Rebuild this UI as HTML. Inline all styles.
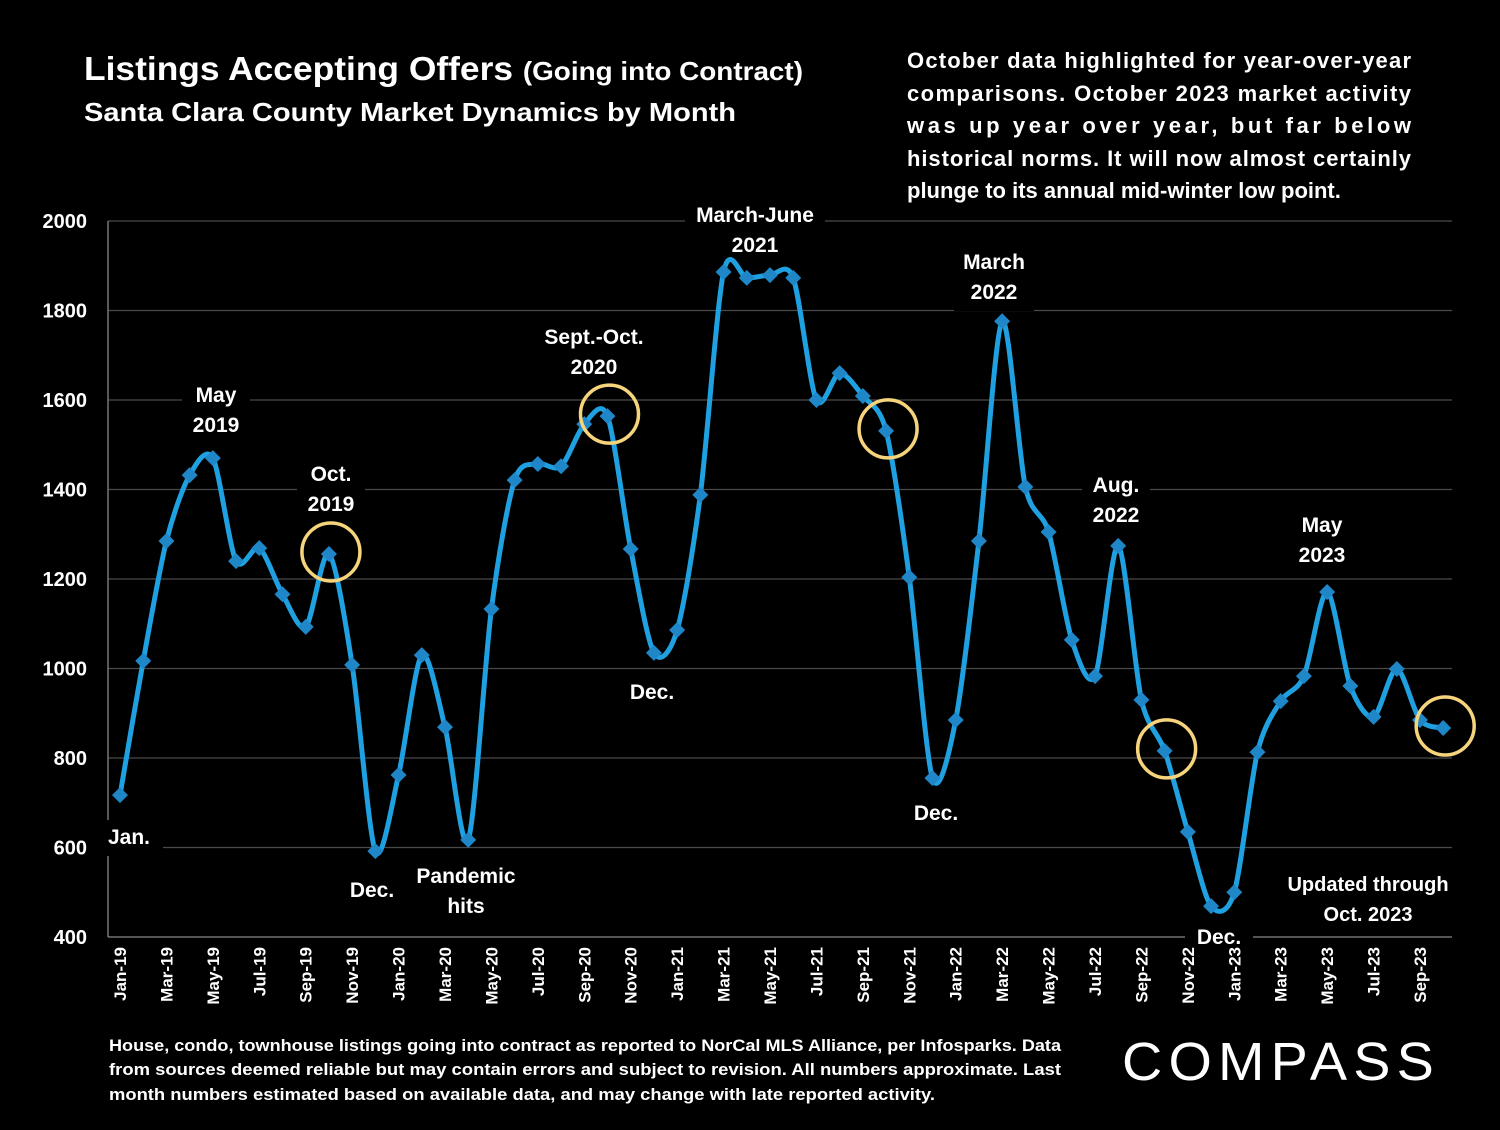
<!DOCTYPE html>
<html><head><meta charset="utf-8">
<style>
body{margin:0;background:#000;width:1500px;height:1125px;overflow:hidden;font-family:"Liberation Sans",Arial,sans-serif;color:#fff}
svg text{font-family:"Liberation Sans",Arial,sans-serif;fill:#fff}
</style></head><body>
<svg id="chart" width="1500" height="1125" viewBox="0 0 1500 1125">
<rect width="1500" height="1125" fill="#000"/>
<text x="84" y="80" font-size="33" font-weight="bold" textLength="719" lengthAdjust="spacingAndGlyphs">Listings Accepting Offers <tspan font-size="26">(Going into Contract)</tspan></text>
<text x="84" y="121" font-size="26" font-weight="bold" textLength="652" lengthAdjust="spacingAndGlyphs">Santa Clara County Market Dynamics by Month</text>
<g font-size="22" font-weight="bold">
<text x="907" y="68" textLength="504">October data highlighted for year-over-year</text>
<text x="907" y="101" textLength="504">comparisons. October 2023 market activity</text>
<text x="907" y="133" textLength="504">was up year over year, but far below</text>
<text x="907" y="166" textLength="504">historical norms. It will now almost certainly</text>
<text x="907" y="198">plunge to its annual mid-winter low point.</text>
</g>
<g id="grid"></g>
<g id="ylabels"></g>
<g id="annos"></g>
<g id="xlabels"></g>
<g id="series"></g>
<g font-size="17" font-weight="bold">
<text x="109" y="1051" textLength="952" lengthAdjust="spacingAndGlyphs">House, condo, townhouse listings going into contract as reported to NorCal MLS Alliance, per Infosparks. Data</text>
<text x="109" y="1075" textLength="952" lengthAdjust="spacingAndGlyphs">from sources deemed reliable but may contain errors and subject to revision. All numbers approximate. Last</text>
<text x="109" y="1100" textLength="826" lengthAdjust="spacingAndGlyphs">month numbers estimated based on available data, and may change with late reported activity.</text>
</g>
<text x="1122" y="1080" font-size="54" letter-spacing="6" textLength="318" lengthAdjust="spacingAndGlyphs">COMPASS</text>
</svg>
<script>
const months=["Jan","Feb","Mar","Apr","May","Jun","Jul","Aug","Sep","Oct","Nov","Dec"];
const categories=[];for(let y=19;y<=23;y++)for(const m of months){categories.push(m+"-"+y);}
categories.length=58;
const values=[717,1017,1285,1432,1470,1240,1269,1166,1093,1256,1008,592,762,1030,869,617,1133,1421,1457,1452,1546,1564,1267,1035,1086,1388,1886,1873,1879,1873,1600,1660,1609,1531,1204,755,885,1285,1776,1406,1305,1064,983,1274,930,816,635,469,500,813,927,983,1171,961,892,999,885,867];
const yTicks=[400,600,800,1000,1200,1400,1600,1800,2000];
const highlighted=["Oct-19","Oct-20","Oct-21","Oct-22","Oct-23"];
const ns="http://www.w3.org/2000/svg";
const X=i=>120+i*23.214, Y=v=>937-(v-400)*0.4475;
function mk(tag,attrs,parent,txt){const e=document.createElementNS(ns,tag);for(const k in attrs)e.setAttribute(k,attrs[k]);if(txt!==undefined)e.textContent=txt;document.getElementById(parent).appendChild(e);return e;}
yTicks.forEach(t=>{
 const l=mk("line",{x1:108,x2:1452,y1:Y(t),y2:Y(t),stroke:t===400?"#888":"#4a4a4a","stroke-width":1.3},"grid");
 
 
 const tx=mk("text",{x:87,y:Y(t)+7,"font-size":20,"font-weight":"bold","text-anchor":"end"},"ylabels",t);
 
 
});
const ax=mk("line",{x1:108,x2:108,y1:221,y2:937,stroke:"#888","stroke-width":1.3},"grid");


categories.forEach((c,i)=>{if(i%2)return;
 const x=X(i);
 const t=mk("text",{x:0,y:0,"font-size":17,"font-weight":"bold","text-anchor":"end",transform:`translate(${x+6},947) rotate(-90)`},"xlabels",c);
 
 
});
const annos=[[216,402,["May","2019"]],[331,481,["Oct.","2019"]],[594,344,["Sept.-Oct.","2020"]],[755,222,["March-June","2021"]],[994,269,["March","2022"]],[1116,492,["Aug.","2022"]],[1322,532,["May","2023"]],[129,844,["Jan."]],[372,897,["Dec."]],[466,883,["Pandemic","hits"]],[652,699,["Dec."]],[936,820,["Dec."]],[1219,944,["Dec."]],[1368,891,["Updated through","Oct. 2023"]]];
annos.forEach(a=>{
 const w=Math.max(...a[2].map(s=>s.length))*12+20,h=a[2].length*30+6;
 const r=mk("rect",{x:a[0]-w/2,y:a[1]-24,width:w,height:h,fill:"#000"},"annos");
 
 
 a[2].forEach((s,k)=>{const t=mk("text",{x:a[0],y:a[1]+k*30,"font-size":a[2][0].startsWith("Updated")?20:21,"font-weight":"bold","text-anchor":"middle"},"annos",s);
 
 });
});
const pts=values.map((v,i)=>[X(i),Y(v)]);
let d=`M${pts[0][0]},${pts[0][1]}`;
const k=7;
for(let i=0;i<pts.length-1;i++){const p0=pts[Math.max(i-1,0)],p1=pts[i],p2=pts[i+1],p3=pts[Math.min(i+2,pts.length-1)];
 d+=` C${p1[0]+(p2[0]-p0[0])/k},${p1[1]+(p2[1]-p0[1])/k} ${p2[0]-(p3[0]-p1[0])/k},${p2[1]-(p3[1]-p1[1])/k} ${p2[0]},${p2[1]}`;}
const line=mk("path",{d:d,fill:"none",stroke:"#1fa0e0","stroke-width":5,"stroke-linejoin":"round"},"series");


pts.forEach((p,i)=>{const s=8;
 const m=mk("polygon",{points:`${p[0]},${p[1]-s} ${p[0]+s},${p[1]} ${p[0]},${p[1]+s} ${p[0]-s},${p[1]}`,fill:"#1f86c8"},"series");
 
 
});
highlighted.forEach(c=>{const i=categories.indexOf(c);
 const ci=mk("circle",{cx:X(i)+2,cy:Y(values[i])-2,r:29,fill:"none",stroke:"#f5d47c","stroke-width":3.5},"series");
 
 
});
</script>
</body></html>
